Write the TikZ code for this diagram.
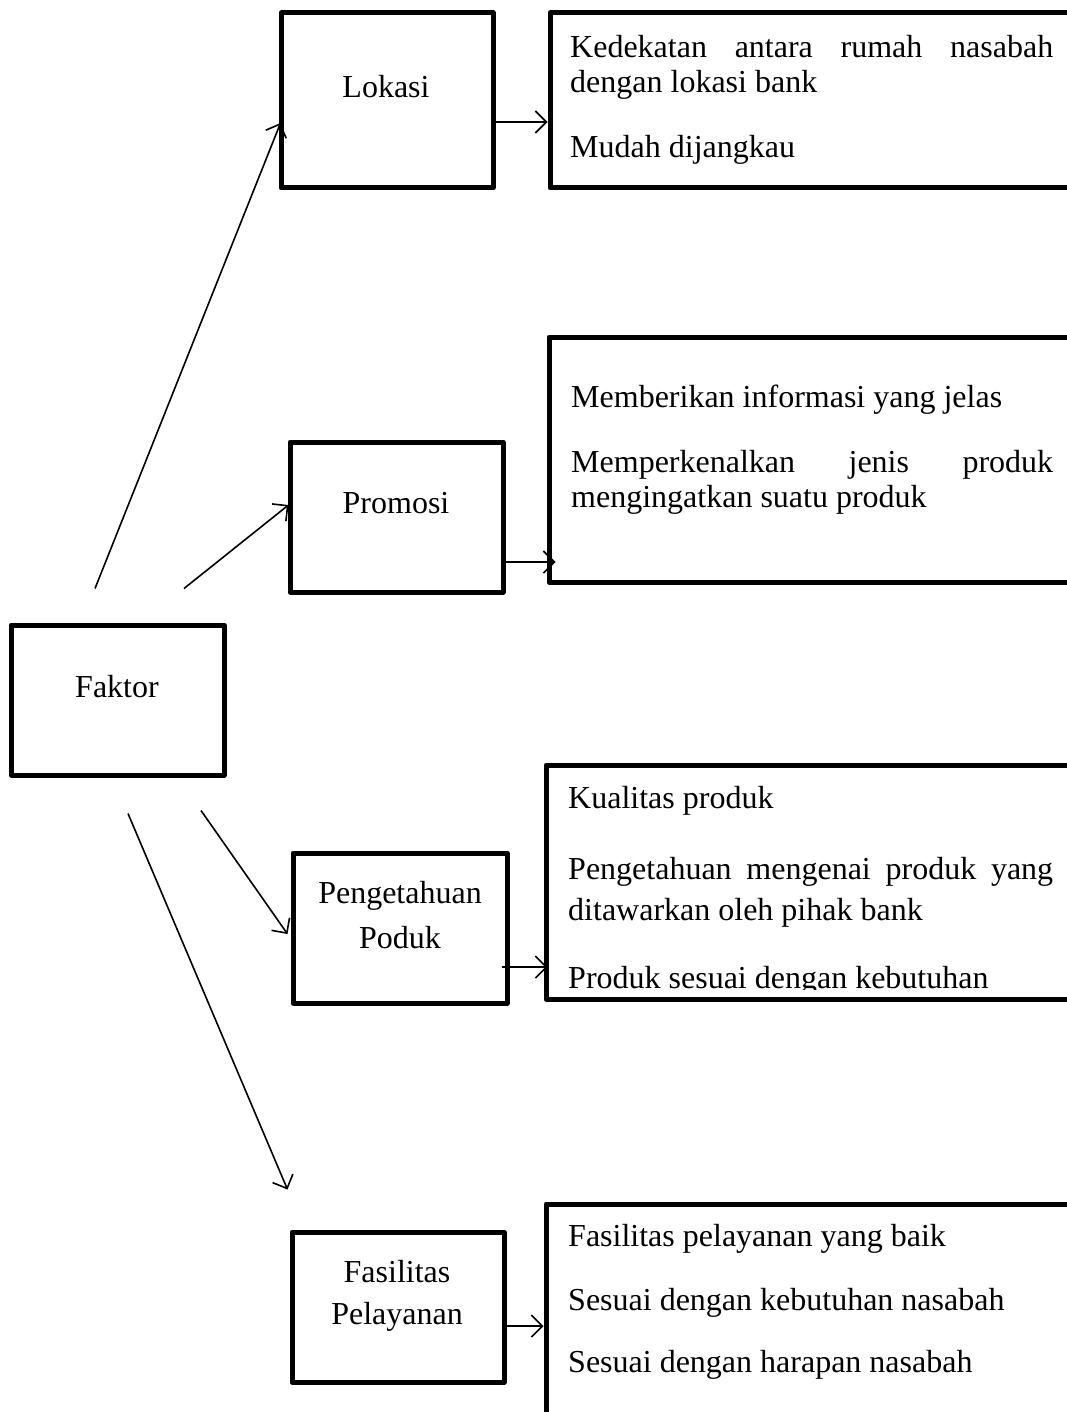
\documentclass[tikz,border=0pt]{standalone}
\usepackage{fontspec}
\setmainfont{Liberation Serif}
\usetikzlibrary{arrows.meta}
\begin{document}
\begin{tikzpicture}[x=1pt,y=-1pt,
  box/.style={draw, line width=5pt, inner sep=0pt, line join=round},
  conn/.style={line width=1.6pt, -{Straight Barb[length=11pt,width=22pt,line width=1.6pt]}},
  lbl/.style={font=\fontsize{32}{37}\selectfont, inner sep=0pt, anchor=base},
  txt/.style={font=\fontsize{32}{37}\selectfont, inner sep=0pt, anchor=base west},
]
\useasboundingbox (0,0) rectangle (1067,1412);
\clip (0,0) rectangle (1067,1412);

% left boxes
\node[box, minimum width=212pt, minimum height=175pt] (lok) at (387,100.5) {};
\node[box, minimum width=213pt, minimum height=150pt] (pro) at (396.5,517) {};
\node[box, minimum width=213pt, minimum height=150pt] (fak) at (117.5,700) {};
\node[box, minimum width=214pt, minimum height=150pt] (pen) at (400,928) {};
\node[box, minimum width=212pt, minimum height=150pt] (fas) at (398,1307) {};

% right boxes (cut by the page edge)
\node[box, minimum width=550pt, minimum height=175pt] (r1) at (825,100.5) {};
\node[box, minimum width=551pt, minimum height=245pt] (r2) at (824.5,459.5) {};
\node[box, minimum width=554pt, minimum height=234pt] (r3) at (823,882) {};
\node[box, minimum width=554pt, minimum height=246pt] (r4) at (823,1327) {};

% labels of left boxes
\node[lbl] (tlok) at (386,98) {Lokasi};
\node[lbl] (tpro) at (396,513) {Promosi};
\node[lbl] (tfak) at (117,697) {Faktor};
\node[lbl] (tpen1) at (400,903) {Pengetahuan};
\node[lbl] (tpen2) at (400,948) {Poduk};
\node[lbl] (tfas1) at (397,1282) {Fasilitas};
\node[lbl] (tfas2) at (397,1324) {Pelayanan};

% texts of right boxes
\node[txt] (a1) at (570,58) {\makebox[483pt][s]{Kedekatan antara rumah nasabah}};
\node[txt] (a2) at (570,93) {dengan lokasi bank};
\node[txt] (a3) at (570,158) {Mudah dijangkau};

\node[txt] (b1) at (571,407) {Memberikan informasi yang jelas};
\node[txt] (b2) at (571,472) {\makebox[482pt][s]{Memperkenalkan jenis produk}};
\node[txt] (b3) at (571,507) {mengingatkan suatu produk};

\node[txt] (c1) at (568,808) {Kualitas produk};
\node[txt] (c2) at (568,879) {\makebox[485pt][s]{Pengetahuan mengenai produk yang}};
\node[txt] (c3) at (568,920) {ditawarkan oleh pihak bank};
\begin{scope}
  \clip (540,950) rectangle (1067,989);
  \node[txt] (c4) at (568,988) {Produk sesuai dengan kebutuhan};
\end{scope}

\node[txt] (d1) at (568,1246) {Fasilitas pelayanan yang baik};
\node[txt] (d2) at (568,1310) {Sesuai dengan kebutuhan nasabah};
\node[txt] (d3) at (568,1372) {Sesuai dengan harapan nasabah};

% connectors from left boxes to right boxes
\draw[conn] ([yshift=-21.5pt]lok.east) -- ([yshift=-21.5pt]r1.west);
\draw[conn] ([yshift=-45pt]pro.east) -- ([xshift=9pt,yshift=-102.5pt]r2.west);
\draw[conn] ([xshift=-8pt,yshift=-39pt]pen.east) -- ([xshift=4pt,yshift=-85pt]r3.west);
\draw[conn] ([xshift=-3pt,yshift=-19pt]fas.east) -- ([yshift=1pt]r4.west);

% connectors from Faktor
\draw[conn] ([xshift=-22.5pt,yshift=34pt]fak.north) -- ([xshift=2pt,yshift=-22.5pt]lok.west);
\draw[conn] ([xshift=66.5pt,yshift=34pt]fak.north) -- ([xshift=1pt,yshift=12pt]pro.west);
\draw[conn] ([xshift=83.5pt,yshift=-33pt]fak.south) -- ([xshift=-3pt,yshift=-6pt]pen.west);
\draw[conn] ([xshift=10.5pt,yshift=-36pt]fak.south) -- ([xshift=-2pt,yshift=40pt]fas.north west);
\end{tikzpicture}
\end{document}
